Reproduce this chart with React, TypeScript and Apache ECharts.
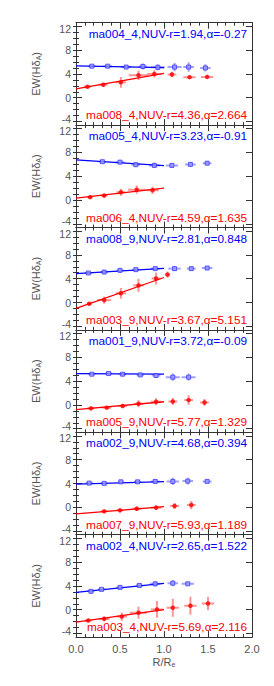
import React, { useEffect, useRef } from "react";
import * as echarts from "echarts";

// [R/Re, EW, xErr, yErr]
const blue1 = [[0.18,5.3,0.04,0.15],[0.36,5.3,0.05,0.15],[0.57,5.15,0.06,0.2],[0.76,5.25,0.05,0.5],[0.93,5.1,0.08,0.5],[1.12,5.15,0.08,0.7],[1.28,5.15,0.06,0.8],[1.47,5.0,0.06,0.6]];
const red1 = [[0.13,1.85,0.04,0.2],[0.31,2.18,0.05,0.3],[0.51,2.58,0.06,0.9],[0.71,3.79,0.11,0.8],[0.89,4.0,0.08,0.6],[1.09,3.9,0.05,0.45],[1.29,3.45,0.07,0.3],[1.49,3.5,0.07,0.3]];
const blue2 = [[0.30,6.45,0.04,0.15],[0.50,6.38,0.05,0.2],[0.68,5.95,0.05,0.35],[0.89,5.83,0.06,0.45],[1.09,5.83,0.07,0.4],[1.30,6.0,0.06,0.4],[1.49,6.2,0.05,0.3]];
const red2 = [[0.16,0.5,0.03,0.2],[0.32,0.76,0.04,0.3],[0.51,1.32,0.05,0.6],[0.69,1.75,0.1,0.7],[0.87,1.65,0.07,0.6]];
const blue3 = [[0.14,4.96,0.04,0.2],[0.32,5.12,0.04,0.25],[0.50,5.4,0.04,0.3],[0.68,5.52,0.04,0.3],[0.90,5.69,0.05,0.3],[1.12,5.69,0.07,0.4],[1.31,5.69,0.05,0.3],[1.49,5.79,0.06,0.3]];
const red3 = [[0.15,-0.21,0.03,0.2],[0.32,0.4,0.08,0.6],[0.51,1.55,0.06,0.9],[0.71,2.88,0.06,1.1],[0.91,4.03,0.05,1.0],[1.04,4.69,0.03,0.5]];
const blue4 = [[0.18,5.16,0.04,0.15],[0.37,5.27,0.04,0.15],[0.53,5.16,0.04,0.2],[0.73,5.04,0.04,0.2],[0.91,4.94,0.05,0.35],[1.10,4.66,0.08,0.6],[1.28,4.66,0.08,0.6]];
const red4 = [[0.17,-0.58,0.04,0.2],[0.35,-0.46,0.05,0.25],[0.53,-0.18,0.05,0.35],[0.71,0.2,0.05,0.6],[0.91,0.53,0.06,0.6],[1.10,0.58,0.05,0.6],[1.28,0.81,0.05,0.8],[1.46,0.41,0.05,0.6]];
const blue5 = [[0.15,4.07,0.04,0.15],[0.32,4.02,0.04,0.15],[0.51,4.28,0.03,0.2],[0.70,4.28,0.04,0.3],[0.90,4.35,0.05,0.35],[1.10,4.35,0.07,0.6],[1.27,4.4,0.06,0.55],[1.49,4.35,0.05,0.2]];
const red5 = [[0.32,-0.68,0.04,0.2],[0.50,-0.51,0.04,0.3],[0.69,-0.23,0.05,0.4],[0.91,-0.07,0.06,0.4],[1.12,0.21,0.05,0.5],[1.31,0.38,0.05,0.7]];
const blue6 = [[0.17,3.09,0.04,0.25],[0.29,3.42,0.04,0.2],[0.50,3.75,0.04,0.25],[0.72,4.08,0.04,0.3],[0.90,4.35,0.06,0.45],[1.10,4.46,0.06,0.5],[1.27,4.35,0.07,0.2]];
const red6 = [[0.14,-1.82,0.04,0.25],[0.32,-1.54,0.06,0.4],[0.52,-1.16,0.06,0.7],[0.71,-0.5,0.1,1.0],[0.92,0.05,0.07,1.4],[1.10,0.33,0.07,1.5],[1.30,0.66,0.07,1.5],[1.50,1.04,0.07,1.1]];

const blueSets = [blue1, blue2, blue3, blue4, blue5, blue6];
const redSets = [red1, red2, red3, red4, red5, red6];

// fit lines: value at R=0 and R=1
const blueFit = [[5.35,5.05],[6.75,5.8],[4.86,5.75],[5.25,5.16],[3.9,4.3],[2.9,4.42]];
const redFit = [[1.47,4.1],[0.35,2.0],[-1.0,4.2],[-0.8,0.53],[-1.1,0.1],[-2.1,0.0]];

const blueLabels = [
  "ma004_4,NUV-r=1.94,α=-0.27",
  "ma005_4,NUV-r=3.23,α=-0.91",
  "ma008_9,NUV-r=2.81,α=0.848",
  "ma001_9,NUV-r=3.72,α=-0.09",
  "ma002_9,NUV-r=4.68,α=0.394",
  "ma002_4,NUV-r=2.65,α=1.522",
];
const redLabels = [
  "ma008_4,NUV-r=4.36,α=2.664",
  "ma006_4,NUV-r=4.59,α=1.635",
  "ma003_9,NUV-r=3.67,α=5.151",
  "ma005_9,NUV-r=5.77,α=1.329",
  "ma007_9,NUV-r=5.93,α=1.189",
  "ma003_4,NUV-r=5.69,α=2.116",
];

const yMajor = [-4, 0, 4, 8, 12];
const yMinor = [-4, -3, -2, -1, 0, 1, 2, 3, 4, 5, 6, 7, 8, 9, 10, 11, 12];

const BLUE = "#0000ff";
const RED = "#ff0000";
const BLUE_ERR = "rgba(110,110,255,0.65)";
const RED_ERR = "rgba(255,90,90,0.65)";
const FRAME = "#333";
const TXT = "#555";

export default function App() {
  const ref = useRef<HTMLDivElement>(null);
  useEffect(() => {
    if (!ref.current) return;
    const chart = echarts.init(ref.current, undefined, { renderer: "svg" });
    const LEFT = 76, WIDTH = 176, TOP0 = 22.7, H = 102.4;
    const grids: any[] = [];
    const xAxes: any[] = [];
    const yAxes: any[] = [];
    const series: any[] = [];
    const graphics: any[] = [];
    const labelFont = { color: TXT, fontSize: 10.5, fontFamily: "Liberation Sans" };
    const errRender = (color: string) => (params: any, api: any) => {
      const x = api.value(0), y = api.value(1), xe = api.value(2), ye = api.value(3);
      const l = api.coord([x - xe, y]);
      const r = api.coord([x + xe, y]);
      const t = api.coord([x, y + ye]);
      const b = api.coord([x, y - ye]);
      return {
        type: "group",
        children: [
          { type: "line", shape: { x1: l[0], y1: l[1], x2: r[0], y2: r[1] }, style: { stroke: color, lineWidth: 2 } },
          { type: "line", shape: { x1: b[0], y1: b[1], x2: t[0], y2: t[1] }, style: { stroke: color, lineWidth: 2 } },
        ],
      };
    };
    for (let i = 0; i < 6; i++) {
      const top = TOP0 + i * H;
      grids.push({ left: LEFT, width: WIDTH, top, height: H, containLabel: false });
      const last = i === 5;
      xAxes.push({
        gridIndex: i, type: "value", min: 0, max: 2, interval: 0.5, position: "bottom",
        axisLine: { show: true, onZero: false, lineStyle: { color: FRAME, width: 1 } },
        axisTick: { show: true, inside: true, length: 6, lineStyle: { color: FRAME } },
        minorTick: { show: true, splitNumber: 5, length: 3, lineStyle: { color: FRAME } },
        splitLine: { show: false },
        axisLabel: { show: last, ...labelFont, fontSize: 11, margin: 6,
          formatter: (v: number) => v.toFixed(1) },
        name: last ? "R/R{sub|e}" : "",
        nameLocation: "middle", nameGap: 18,
        nameTextStyle: { color: TXT, fontSize: 11, fontFamily: "Liberation Sans",
          rich: { sub: { fontSize: 7, verticalAlign: "bottom", color: TXT, padding: [6, 0, 0, 0] } } },
      });
      xAxes.push({
        gridIndex: i, type: "value", min: 0, max: 2, interval: 0.5, position: "top",
        axisLine: { show: true, onZero: false, lineStyle: { color: FRAME, width: 1 } },
        axisTick: { show: true, inside: true, length: 6, lineStyle: { color: FRAME } },
        minorTick: { show: true, splitNumber: 5, length: 3, lineStyle: { color: FRAME } },
        splitLine: { show: false }, axisLabel: { show: false },
      });
      const yBase = { gridIndex: i, type: "value", min: -4.6, max: 12.6, splitLine: { show: false } };
      yAxes.push({
        ...yBase, position: "left",
        axisLine: { show: true, onZero: false, lineStyle: { color: FRAME, width: 1 } },
        axisTick: { show: true, inside: true, length: 6, customValues: yMajor, lineStyle: { color: FRAME } },
        axisLabel: {
          show: true, customValues: yMajor, ...labelFont, margin: 5,
          formatter: (v: number) => (v === 12 ? "{t|12}" : v === -4 ? "{b|-4}" : String(v)),
          rich: {
            t: { ...labelFont, padding: [5, 0, 0, 0] },
            b: { ...labelFont, padding: [0, 0, 5, 0] },
          },
        },
        name: "EW(Hδ{sub|A})", nameLocation: "middle", nameGap: 34, nameRotate: 90,
        nameTextStyle: { color: TXT, fontSize: 11, fontFamily: "Liberation Sans",
          rich: { sub: { fontSize: 7, color: TXT, padding: [6, 0, 0, 0] } } },
      });
      yAxes.push({
        ...yBase, position: "left",
        axisLine: { show: false },
        axisTick: { show: true, inside: true, length: 3, customValues: yMinor, lineStyle: { color: FRAME } },
        axisLabel: { show: false },
      });
      yAxes.push({
        ...yBase, position: "right",
        axisLine: { show: true, onZero: false, lineStyle: { color: FRAME, width: 1 } },
        axisTick: { show: true, inside: true, length: 6, customValues: yMajor, lineStyle: { color: FRAME } },
        axisLabel: { show: false },
      });
      yAxes.push({
        ...yBase, position: "right",
        axisLine: { show: false },
        axisTick: { show: true, inside: true, length: 3, customValues: yMinor, lineStyle: { color: FRAME } },
        axisLabel: { show: false },
      });
      const xi = 2 * i, yi = 4 * i;
      series.push({
        type: "custom", xAxisIndex: xi, yAxisIndex: yi, clip: true,
        data: blueSets[i], encode: { x: 0, y: 1 }, renderItem: errRender(BLUE_ERR), z: 2,
      });
      series.push({
        type: "custom", xAxisIndex: xi, yAxisIndex: yi, clip: true,
        data: redSets[i], encode: { x: 0, y: 1 }, renderItem: errRender(RED_ERR), z: 2,
      });
      series.push({
        type: "line", xAxisIndex: xi, yAxisIndex: yi, showSymbol: false, z: 3,
        data: [[0, blueFit[i][0]], [1, blueFit[i][1]]],
        lineStyle: { color: BLUE, width: 1.3 },
      });
      series.push({
        type: "line", xAxisIndex: xi, yAxisIndex: yi, showSymbol: false, z: 3,
        data: [[0, redFit[i][0]], [1, redFit[i][1]]],
        lineStyle: { color: RED, width: 1.3 },
      });
      series.push({
        type: "scatter", xAxisIndex: xi, yAxisIndex: yi, z: 4,
        data: blueSets[i].map((d) => [d[0], d[1]]),
        symbol: "rect", symbolSize: 4,
        itemStyle: { color: "#9c9cff", borderColor: "#3a3aff", borderWidth: 1 },
      });
      series.push({
        type: "scatter", xAxisIndex: xi, yAxisIndex: yi, z: 4,
        data: redSets[i].map((d) => [d[0], d[1]]),
        symbol: "circle", symbolSize: 4.5,
        itemStyle: { color: RED },
      });
      graphics.push({
        type: "text", right: 274 - 247, top: top + 5,
        style: { text: blueLabels[i], fill: BLUE, fontSize: 11.8, fontFamily: "Liberation Sans" },
      });
      graphics.push({
        type: "text", right: 274 - 247, top: top + H - 16,
        style: { text: redLabels[i], fill: RED, fontSize: 11.8, fontFamily: "Liberation Sans" },
      });
    }
    chart.setOption({
      animation: false,
      backgroundColor: "#ffffff",
      grid: grids,
      xAxis: xAxes,
      yAxis: yAxes,
      series,
      graphic: graphics,
    });
    return () => chart.dispose();
  }, []);
  return <div ref={ref} style={{ width: 274, height: 686, position: "absolute", left: 0, top: 0 }} />;
}
